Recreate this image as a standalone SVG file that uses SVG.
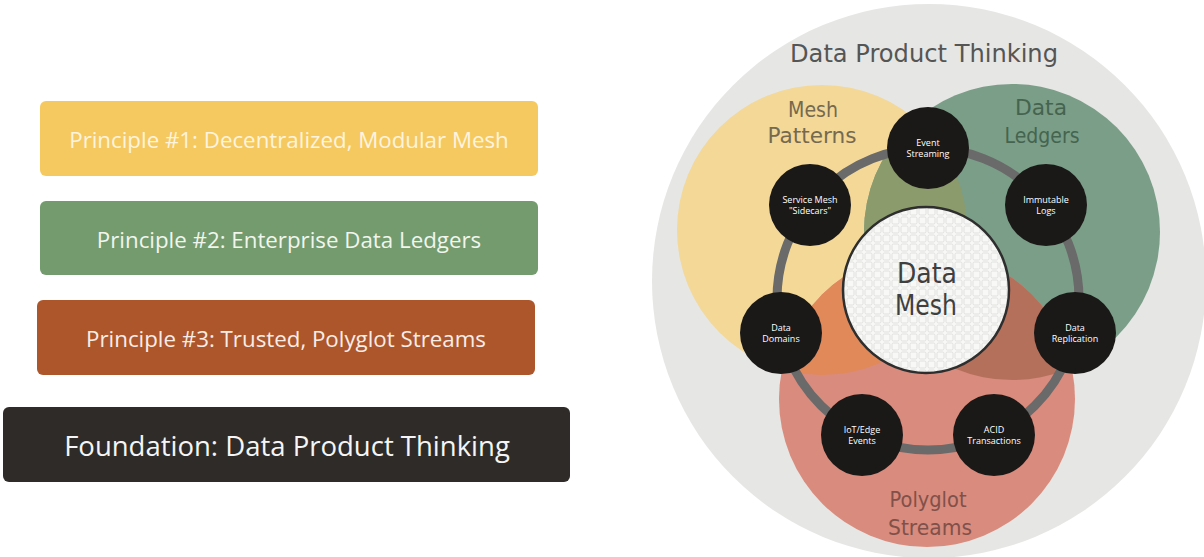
<svg xmlns="http://www.w3.org/2000/svg" width="1204" height="557" viewBox="0 0 1204 557">
<style>
.box-text{font-family:"Open Sans","Liberation Sans",sans-serif;font-size:22.3px;text-anchor:middle;dominant-baseline:central}
.hand{font-family:"DejaVu Sans","Liberation Sans",sans-serif;font-weight:400;text-anchor:middle}
.node circle{fill:#1b1918}
.node text{font-family:"Open Sans","Liberation Sans",sans-serif;font-size:9px;fill:#ffffff;text-anchor:middle}
</style>
<defs>
<clipPath id="clipY"><circle cx="822" cy="230" r="145"/></clipPath>
<clipPath id="clipG"><circle cx="1012" cy="232" r="148"/></clipPath>
<pattern id="weave" width="9" height="9" patternUnits="userSpaceOnUse">
<rect width="9" height="9" fill="#f8f8f7"/>
<rect x="1" y="1" width="7" height="7" rx="1.5" fill="none" stroke="#e0e0de" stroke-width="1"/>
</pattern>
</defs>
<rect width="1204" height="557" fill="#ffffff"/>

<g id="principle1">
<rect x="40" y="101" width="498" height="75" rx="6" fill="#f6c960"/>
<text class="box-text" x="289" y="139" fill="#fdf4df">Principle #1: Decentralized, Modular Mesh</text>
</g>
<g id="principle2">
<rect x="40" y="201" width="498" height="74" rx="6" fill="#739b6d"/>
<text class="box-text" x="289" y="239" fill="#f1f5ed">Principle #2: Enterprise Data Ledgers</text>
</g>
<g id="principle3">
<rect x="37" y="300" width="498" height="75" rx="6" fill="#ad562c"/>
<text class="box-text" x="286" y="338" fill="#f8ede6">Principle #3: Trusted, Polyglot Streams</text>
</g>
<g id="foundation">
<rect x="3" y="407" width="567" height="75" rx="6" fill="#2f2b28"/>
<text class="box-text" x="287" y="445" fill="#f5f5f5" style="font-size:27.5px">Foundation: Data Product Thinking</text>
</g>

<g id="data-product-thinking">
<circle cx="929" cy="281" r="277" fill="#e6e6e4"/>
<text class="hand" x="924" y="62" font-size="25" fill="#555555" textLength="268" lengthAdjust="spacingAndGlyphs">Data Product Thinking</text>
</g>

<g id="venn">
<circle id="mesh-patterns-circle" cx="822" cy="230" r="145" fill="#f3d898"/>
<circle id="data-ledgers-circle" cx="1012" cy="232" r="148" fill="#7b9e88"/>
<circle cx="1012" cy="232" r="148" fill="#8b9b6b" clip-path="url(#clipY)"/>
<circle id="polyglot-circle" cx="927" cy="399" r="148" fill="#d98b7d"/>
<circle cx="927" cy="399" r="148" fill="#e2895a" clip-path="url(#clipY)"/>
<circle cx="927" cy="399" r="148" fill="#b5705b" clip-path="url(#clipG)"/>
</g>

<g id="mesh-patterns-label">
<text class="hand" x="813" y="117" font-size="22" fill="#75694f" textLength="50" lengthAdjust="spacingAndGlyphs">Mesh</text>
<text class="hand" x="812" y="143" font-size="22" fill="#75694f" textLength="89" lengthAdjust="spacingAndGlyphs">Patterns</text>
</g>
<g id="data-ledgers-label">
<text class="hand" x="1041" y="115" font-size="22" fill="#45644f" textLength="52" lengthAdjust="spacingAndGlyphs">Data</text>
<text class="hand" x="1042" y="143" font-size="22" fill="#45644f" textLength="75" lengthAdjust="spacingAndGlyphs">Ledgers</text>
</g>
<g id="polyglot-label">
<text class="hand" x="928" y="507" font-size="22" fill="#80514a" textLength="77" lengthAdjust="spacingAndGlyphs">Polyglot</text>
<text class="hand" x="930" y="535" font-size="22" fill="#80514a" textLength="84" lengthAdjust="spacingAndGlyphs">Streams</text>
</g>

<g id="connectors">
<circle cx="928" cy="299" r="151" fill="none" stroke="#6a6a6a" stroke-width="9"/>
</g>

<g id="data-mesh">
<circle cx="926" cy="290" r="83" fill="url(#weave)" stroke="#2e2e2e" stroke-width="2.5"/>
<text class="hand" x="927" y="283" font-size="28" fill="#3f3f3f" textLength="60" lengthAdjust="spacingAndGlyphs">Data</text>
<text class="hand" x="926" y="315" font-size="28" fill="#3f3f3f" textLength="62" lengthAdjust="spacingAndGlyphs">Mesh</text>
</g>

<g id="event-streaming" class="node">
<circle cx="928" cy="148" r="41"/>
<text x="928" y="146">Event</text><text x="928" y="157">Streaming</text>
</g>
<g id="service-mesh" class="node">
<circle cx="810" cy="205" r="41"/>
<text x="810" y="203">Service Mesh</text><text x="810" y="214">"Sidecars"</text>
</g>
<g id="immutable-logs" class="node">
<circle cx="1046" cy="205" r="41"/>
<text x="1046" y="203">Immutable</text><text x="1046" y="214">Logs</text>
</g>
<g id="data-domains" class="node">
<circle cx="781" cy="333" r="41"/>
<text x="781" y="331">Data</text><text x="781" y="342">Domains</text>
</g>
<g id="data-replication" class="node">
<circle cx="1075" cy="333" r="41"/>
<text x="1075" y="331">Data</text><text x="1075" y="342">Replication</text>
</g>
<g id="iot-edge-events" class="node">
<circle cx="862" cy="435" r="41"/>
<text x="862" y="433">IoT/Edge</text><text x="862" y="444">Events</text>
</g>
<g id="acid-transactions" class="node">
<circle cx="994" cy="435" r="41"/>
<text x="994" y="433">ACID</text><text x="994" y="444">Transactions</text>
</g>
</svg>
